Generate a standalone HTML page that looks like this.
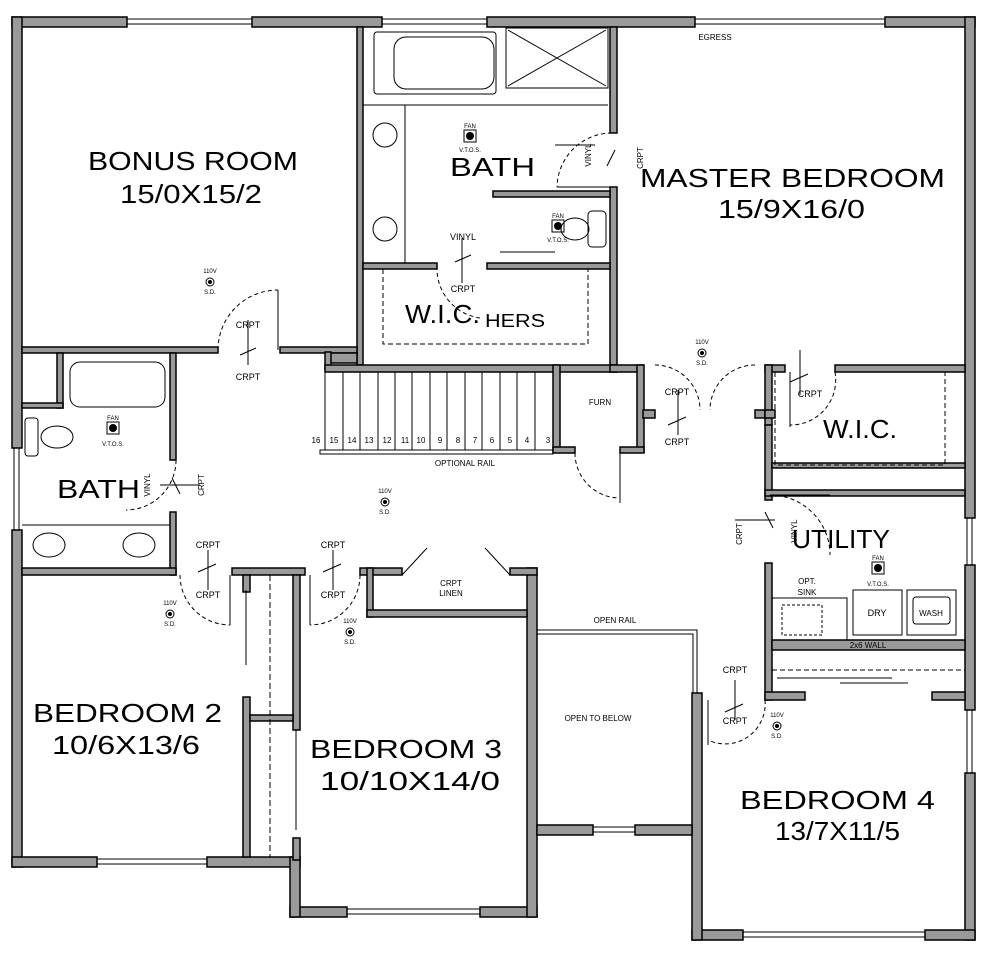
<!DOCTYPE html>
<html><head><meta charset="utf-8"><style>html,body{margin:0;background:#fff}svg{display:block}</style></head><body>
<svg width="1000" height="961" viewBox="0 0 1000 961" xmlns="http://www.w3.org/2000/svg" font-family="Liberation Sans, sans-serif">
<g fill="#9a9a9a" stroke="#000" stroke-width="1.5">
<!-- exterior top -->
<rect x="12" y="17" width="115" height="10"/><rect x="252" y="17" width="130" height="10"/><rect x="487" y="17" width="208" height="10"/><rect x="885" y="17" width="90" height="10"/>
<!-- left exterior -->
<rect x="12" y="17" width="10" height="431"/><rect x="12" y="530" width="10" height="337"/>
<rect x="12" y="857" width="85" height="10"/><rect x="207" y="857" width="93" height="10"/>
<!-- right exterior -->
<rect x="965" y="17" width="10" height="501"/><rect x="965" y="565" width="10" height="145"/><rect x="965" y="773" width="10" height="167"/>
<!-- bedroom4 -->
<rect x="692" y="930" width="51" height="10"/><rect x="925" y="930" width="50" height="10"/><rect x="692" y="693" width="10" height="247"/>
<!-- bedroom3 -->
<rect x="290" y="907" width="57" height="10"/><rect x="480" y="907" width="57" height="10"/><rect x="290" y="857" width="10" height="60"/><rect x="527" y="568" width="10" height="349"/>
<!-- open to below bottom -->
<rect x="537" y="825" width="56" height="10"/><rect x="635" y="825" width="57" height="10"/>
<!-- bonus -->
<rect x="357" y="27" width="6" height="338"/><rect x="22" y="347" width="196" height="6"/><rect x="280" y="347" width="77" height="6"/>
<rect x="330" y="353" width="27" height="10"/><rect x="325" y="352" width="6" height="18"/>
<rect x="57" y="353" width="6" height="55"/><rect x="22" y="403" width="41" height="5"/>
<!-- master bath -->
<rect x="610" y="27" width="7" height="106"/><rect x="610" y="187" width="7" height="185"/>
<rect x="363" y="263" width="74" height="6"/><rect x="487" y="263" width="123" height="6"/>
<rect x="493" y="191" width="117" height="6"/>
<rect x="325" y="365" width="292" height="7"/>
<!-- master bottom -->
<rect x="610" y="365" width="33" height="7"/><rect x="637" y="365" width="7" height="87"/><rect x="620" y="447" width="24" height="6"/>
<rect x="553" y="365" width="7" height="87"/><rect x="553" y="447" width="22" height="6"/>
<rect x="643" y="410" width="12" height="8"/><rect x="755" y="410" width="12" height="8"/>
<rect x="765" y="365" width="20" height="7"/><rect x="835" y="365" width="130" height="7"/>
<rect x="765" y="365" width="7" height="60"/><rect x="765" y="410" width="10" height="8"/>
<rect x="765" y="425" width="7" height="75"/>
<rect x="772" y="463" width="193" height="5"/><rect x="765" y="490" width="200" height="6"/>
<rect x="765" y="563" width="7" height="137"/>
<rect x="772" y="640" width="193" height="10"/>
<rect x="765" y="692" width="40" height="8"/><rect x="932" y="692" width="33" height="8"/>
<!-- left bath/hall -->
<rect x="170" y="353" width="6" height="107"/><rect x="170" y="512" width="6" height="63"/>
<rect x="22" y="568" width="154" height="7"/>
<rect x="232" y="568" width="73" height="7"/><rect x="243" y="575" width="7" height="17"/><rect x="243" y="697" width="7" height="160"/>
<rect x="293" y="575" width="7" height="155"/><rect x="293" y="838" width="7" height="22"/><rect x="250" y="715" width="43" height="6"/>
<rect x="360" y="568" width="42" height="7"/><rect x="367" y="568" width="6" height="49"/><rect x="367" y="610" width="160" height="7"/><rect x="510" y="568" width="27" height="7"/>
</g>
<g fill="none" stroke="#000" stroke-width="1">
<!-- windows -->
<path d="M127 19h125M127 24h125M382 19h105M382 24h105M695 19h190M695 24h190M97 859h110M97 864h110M347 909h133M347 914h133M743 932h182M743 937h182M593 827h42M593 832h42M14 448v82M19 448v82M967 518v47M972 518v47M967 710v63M972 710v63"/>
<!-- bath fixtures -->
<rect x="374" y="32" width="122" height="62" rx="3"/><rect x="394" y="37" width="100" height="52" rx="12"/>
<rect x="506" y="28" width="102" height="60"/><path d="M508 30L606 86M606 30L508 86"/>
<path d="M363 105h245M405 105v158"/>
<circle cx="385" cy="135" r="12"/><circle cx="385" cy="229" r="12"/>
<rect x="588" y="211" width="18" height="36" rx="4"/><ellipse cx="575" cy="229" rx="14" ry="11"/>
<path d="M500 252h55M455 90v0"/>
<!-- WIC dashed -->
<path stroke-dasharray="5,3" d="M383 269v75h205v-75"/>
<path stroke-dasharray="5,3" d="M775 372v93h170v-93"/>
<!-- left bath -->
<rect x="70" y="362" width="95" height="45" rx="10"/><rect x="25" y="418" width="13" height="38" rx="3"/><ellipse cx="57" cy="437" rx="16" ry="11"/>
<path d="M22 525h148"/><ellipse cx="49" cy="545" rx="16" ry="12"/><ellipse cx="139" cy="545" rx="16" ry="12"/>
<!-- stairs -->
<path d="M325 372v78M343 372v78M360 372v78M378 372v78M395 372v78M412 372v78M430 372v78M447 372v78M465 372v78M482 372v78M500 372v78M517 372v78M535 372v78"/>
<rect x="320" y="450" width="233" height="4"/>
<!-- open rail -->
<path d="M537 630h160v63M537 634h156v59"/>
<!-- utility fixtures -->
<rect x="772" y="598" width="75" height="42"/><rect x="782" y="605" width="40" height="30" stroke-dasharray="3,2"/>
<rect x="853" y="590" width="49" height="45"/><rect x="907" y="590" width="49" height="45"/><rect x="913" y="597" width="37" height="27" rx="3"/>
<path d="M772 670h193" stroke-dasharray="5,3"/>
<path d="M777 678h115M840 683h68"/>
<path d="M270 575v282" stroke-dasharray="6,3"/>
<!-- door swings -->
<g stroke-dasharray="4,3">
<path d="M218 350A60 60 0 0 1 278 290M437 266A50 50 0 0 0 480 318M612 133A55 55 0 0 0 557 187M655 365A45 45 0 0 1 700 410M755 365A45 45 0 0 0 710 410M835 372A45 45 0 0 1 790 425M176 460A50 50 0 0 1 126 510M575 453A45 45 0 0 0 620 498M180 575A50 50 0 0 0 230 625M360 575A50 50 0 0 1 310 625M770 495A60 60 0 0 1 830 555M765 700A40 40 0 0 1 708 740"/>
</g>
<path d="M278 290v60M557 187h55M790 372v55M620 453v50M230 575v50M310 575v50M770 495h60M708 700v45M246 590v75M296 730v100M402 575l25-27M510 575l-25-27"/>
<!-- door crosses -->
<path d="M248 320v45M240 355l16-7M462 238v45M455 262l16-7M595 145h-40M615 150l-8 16M678 390v45M668 425l18-8M800 350v45M790 382l18-8M160 485h40M172 478l8 16M208 550v40M198 572l18-8M333 550v40M323 572l18-8M735 520h40M765 512l8 16M735 680v40M725 712l18-8"/>
</g>
<!-- S.D. symbols -->
<g font-size="6" text-anchor="middle" fill="#000">
<circle cx="210" cy="282" r="4" fill="none" stroke="#000"/><circle cx="210" cy="282" r="2"/><text x="210" y="273">110V</text><text x="210" y="294">S.D.</text>
<circle cx="702" cy="353" r="4" fill="none" stroke="#000"/><circle cx="702" cy="353" r="2"/><text x="702" y="344">110V</text><text x="702" y="365">S.D.</text>
<circle cx="385" cy="502" r="4" fill="none" stroke="#000"/><circle cx="385" cy="502" r="2"/><text x="385" y="493">110V</text><text x="385" y="514">S.D.</text>
<circle cx="170" cy="614" r="4" fill="none" stroke="#000"/><circle cx="170" cy="614" r="2"/><text x="170" y="605">110V</text><text x="170" y="626">S.D.</text>
<circle cx="350" cy="632" r="4" fill="none" stroke="#000"/><circle cx="350" cy="632" r="2"/><text x="350" y="623">110V</text><text x="350" y="644">S.D.</text>
<circle cx="777" cy="726" r="4" fill="none" stroke="#000"/><circle cx="777" cy="726" r="2"/><text x="777" y="717">110V</text><text x="777" y="738">S.D.</text>
<text x="470" y="128">FAN</text><rect x="464" y="130" width="12" height="12" fill="none" stroke="#000"/><circle cx="470" cy="136" r="4"/><text x="470" y="152">V.T.O.S.</text>
<text x="558" y="218">FAN</text><rect x="552" y="220" width="12" height="12" fill="none" stroke="#000"/><circle cx="558" cy="226" r="4"/><text x="558" y="242">V.T.O.S.</text>
<text x="113" y="420">FAN</text><rect x="107" y="422" width="12" height="12" fill="none" stroke="#000"/><circle cx="113" cy="428" r="4"/><text x="113" y="446">V.T.O.S.</text>
<text x="878" y="560">FAN</text><rect x="872" y="562" width="12" height="12" fill="none" stroke="#000"/><circle cx="878" cy="568" r="4"/><text x="878" y="586">V.T.O.S.</text>
</g>
<!-- small labels -->
<g font-size="9" fill="#000" text-anchor="middle">
<text x="248" y="328">CRPT</text><text x="248" y="380">CRPT</text>
<text x="463" y="240">VINYL</text><text x="463" y="292">CRPT</text>
<text x="677" y="395">CRPT</text><text x="677" y="445">CRPT</text><text x="810" y="397">CRPT</text>
<text x="208" y="548">CRPT</text><text x="208" y="598">CRPT</text><text x="333" y="548">CRPT</text><text x="333" y="598">CRPT</text>
<text x="735" y="673">CRPT</text><text x="735" y="724">CRPT</text>
<text x="451" y="586" font-size="8">CRPT</text><text x="451" y="596" font-size="8">LINEN</text>
<text x="600" y="405" font-size="8">FURN</text>
<text x="715" y="40" font-size="8">EGRESS</text>
<text x="465" y="466" font-size="8">OPTIONAL RAIL</text>
<text x="615" y="623" font-size="8">OPEN RAIL</text>
<text x="598" y="721" font-size="8">OPEN TO BELOW</text>
<text x="807" y="584" font-size="8">OPT.</text><text x="807" y="595" font-size="8">SINK</text>
<text x="877" y="616">DRY</text><text x="931" y="616" font-size="8">WASH</text>
<text x="868" y="648" font-size="8">2x6 WALL</text>
<text x="316" y="443" font-size="8">16</text><text x="334" y="443" font-size="8">15</text><text x="352" y="443" font-size="8">14</text><text x="369" y="443" font-size="8">13</text><text x="387" y="443" font-size="8">12</text><text x="405" y="443" font-size="8">11</text><text x="421" y="443" font-size="8">10</text><text x="440" y="443" font-size="8">9</text><text x="458" y="443" font-size="8">8</text><text x="475" y="443" font-size="8">7</text><text x="492" y="443" font-size="8">6</text><text x="510" y="443" font-size="8">5</text><text x="527" y="443" font-size="8">4</text><text x="548" y="443" font-size="8">3</text>
<text x="0" y="0" font-size="8" transform="translate(591 155) rotate(-90)">VINYL</text>
<text x="0" y="0" font-size="8" transform="translate(643 158) rotate(-90)">CRPT</text>
<text x="0" y="0" font-size="8" transform="translate(150 485) rotate(-90)">VINYL</text>
<text x="0" y="0" font-size="8" transform="translate(204 485) rotate(-90)">CRPT</text>
<text x="0" y="0" font-size="8" transform="translate(742 534) rotate(-90)">CRPT</text>
<text x="0" y="0" font-size="8" transform="translate(797 531) rotate(-90)">VINYL</text>
</g>
<!-- room labels -->
<g fill="#000" font-size="26">
<text x="88" y="170" textLength="210" lengthAdjust="spacingAndGlyphs">BONUS ROOM</text>
<text x="120" y="203" textLength="142" lengthAdjust="spacingAndGlyphs">15/0X15/2</text>
<text x="450" y="176" textLength="85" lengthAdjust="spacingAndGlyphs">BATH</text>
<text x="640" y="187" textLength="305" lengthAdjust="spacingAndGlyphs">MASTER BEDROOM</text>
<text x="718" y="218" textLength="147" lengthAdjust="spacingAndGlyphs">15/9X16/0</text>
<text x="405" y="323" textLength="75" lengthAdjust="spacingAndGlyphs">W.I.C.</text>
<text x="485" y="327" font-size="18" textLength="60" lengthAdjust="spacingAndGlyphs">HERS</text>
<text x="823" y="438" textLength="74" lengthAdjust="spacingAndGlyphs">W.I.C.</text>
<text x="57" y="498" textLength="83" lengthAdjust="spacingAndGlyphs">BATH</text>
<text x="792" y="548" textLength="98" lengthAdjust="spacingAndGlyphs">UTILITY</text>
<text x="33" y="722" textLength="189" lengthAdjust="spacingAndGlyphs">BEDROOM 2</text>
<text x="52" y="754" textLength="148" lengthAdjust="spacingAndGlyphs">10/6X13/6</text>
<text x="310" y="758" textLength="192" lengthAdjust="spacingAndGlyphs">BEDROOM 3</text>
<text x="320" y="790" textLength="180" lengthAdjust="spacingAndGlyphs">10/10X14/0</text>
<text x="740" y="809" textLength="195" lengthAdjust="spacingAndGlyphs">BEDROOM 4</text>
<text x="775" y="840" textLength="125" lengthAdjust="spacingAndGlyphs">13/7X11/5</text>
</g>
</svg>
</body></html>
